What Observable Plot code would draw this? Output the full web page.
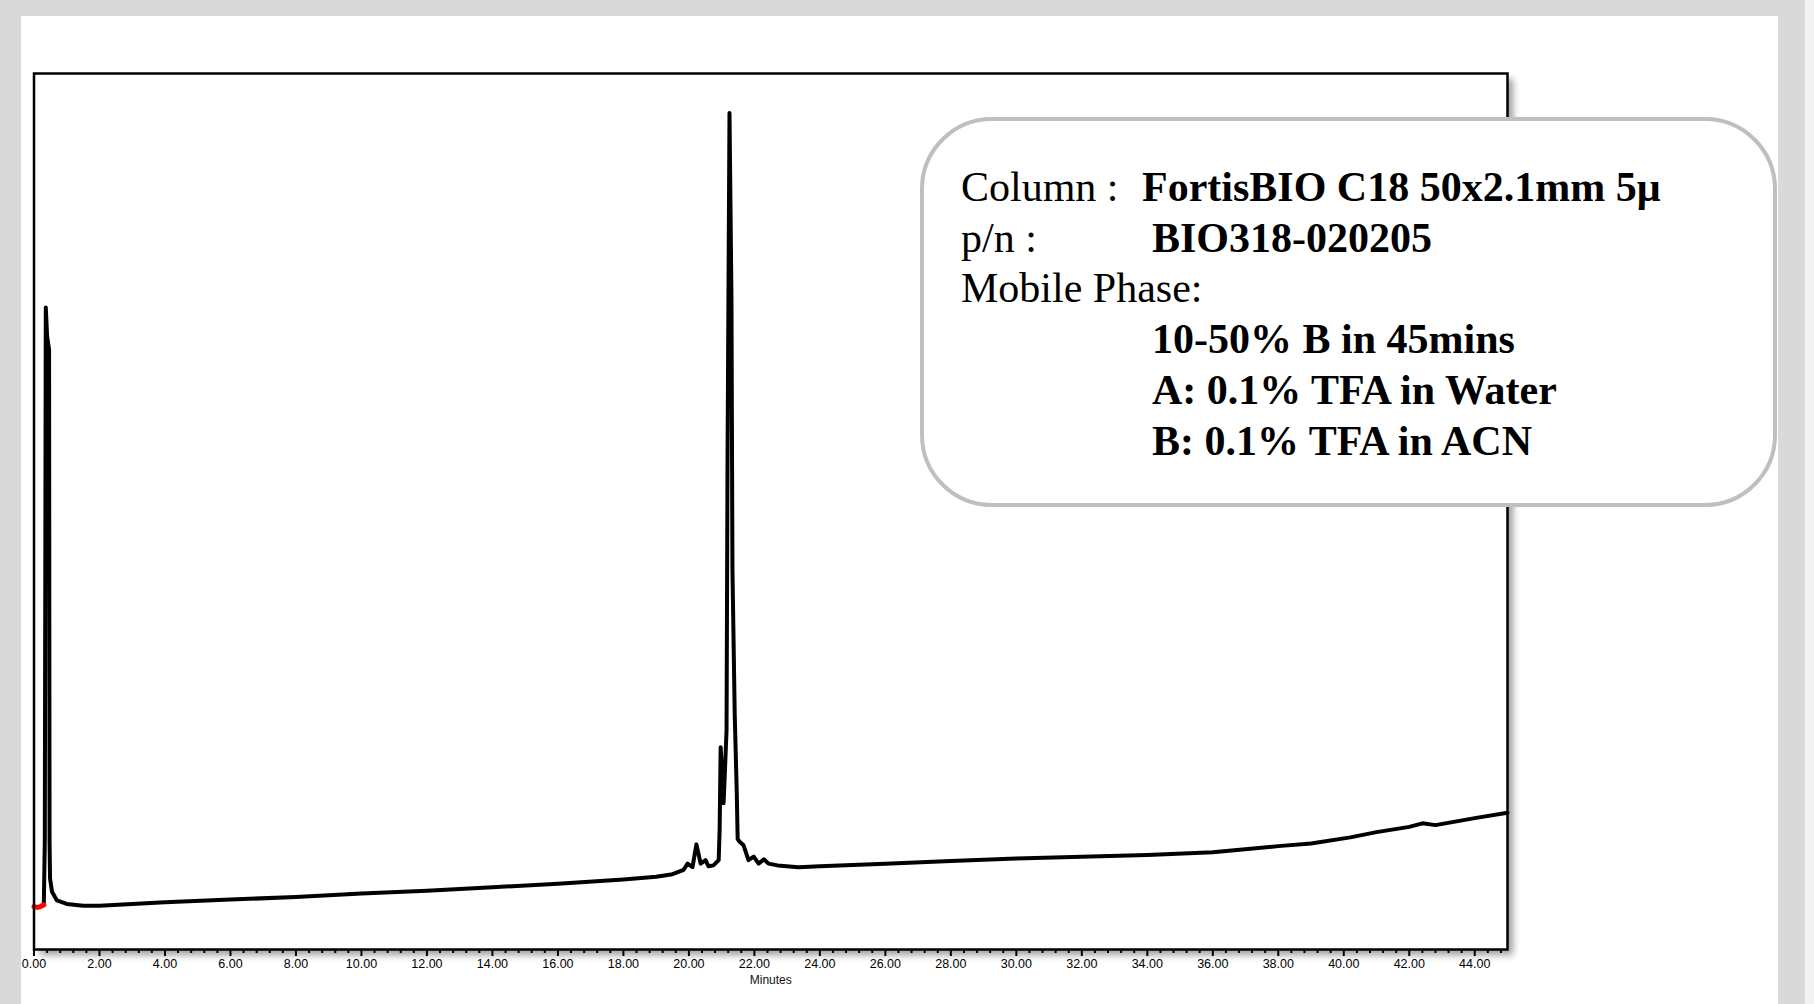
<!DOCTYPE html>
<html>
<head>
<meta charset="utf-8">
<script src="https://cdn.jsdelivr.net/npm/d3@7"></script>
<script src="https://cdn.jsdelivr.net/npm/@observablehq/plot@0.6"></script>
<style>
  html, body { margin: 0; padding: 0; }
  body { width: 1814px; height: 1004px; background: #d9d9d9; position: relative; overflow: hidden; }
  #panel { position: absolute; left: 21px; top: 16px; width: 1757px; height: 988px; background: #ffffff; }
  #strip { position: absolute; left: 1805px; top: 0; width: 9px; height: 1004px; background: #f3f3f3; }
  #shadow { position: absolute; left: 34px; top: 73px; width: 1473px; height: 876px; background: #fff; box-shadow: 6px 6px 7px rgba(0,0,0,0.38); }
  #chart { position: absolute; left: 21px; top: 16px; }
  #box { position: absolute; left: 0; top: 0; }
</style>
</head>
<body>
<div id="panel"></div>
<div id="strip"></div>
<div id="shadow"></div>
<div id="chart"></div>
<svg id="box" width="1814" height="1004"></svg>
<script>
// ---- Chromatogram trace (minutes vs. detector response, arbitrary units) ----
const minutes = [0.30, 0.33, 0.36, 0.40, 0.46, 0.475, 0.49, 0.55, 0.70, 1.0, 1.5, 2.0, 3.0, 4.0, 6.0, 8.0, 10.0, 12.0, 14.0, 16.0, 18.0, 19.0, 19.5, 19.84, 19.96, 20.11, 20.23, 20.36, 20.51, 20.60, 20.75, 20.91, 20.94, 20.97, 21.06, 21.15, 21.18, 21.24, 21.30, 21.33, 21.40, 21.46, 21.49, 21.55, 21.67, 21.82, 21.98, 22.13, 22.29, 22.43, 22.71, 23.35, 24.0, 26.0, 28.0, 30.0, 32.0, 34.0, 36.0, 38.0, 39.0, 40.2, 41.0, 42.0, 42.4, 42.8, 44.0, 45.0];
const response = [51, 124, 733, 700, 685, 124, 81, 66, 56, 52, 50, 50, 52, 54, 57, 60, 64, 67, 71, 75, 80, 83, 86, 91, 98, 94, 120, 98, 102, 95, 96, 102, 138, 231, 167, 250, 559, 955, 744, 435, 268, 182, 126, 123, 119, 102, 106, 98, 103, 98, 96, 94, 95, 98, 101, 104, 106, 108, 111, 118, 121, 128, 134, 140, 144, 142, 150, 156];
// initial segment drawn in red
const startMinutes = [0.0, 0.1, 0.2, 0.3];
const startResponse = [49, 48, 49, 51];

// ---- Axis ticks ----
const majorTicks = [0, 2, 4, 6, 8, 10, 12, 14, 16, 18, 20, 22, 24, 26, 28, 30, 32, 34, 36, 38, 40, 42, 44];
const minorTicks = d3.range(0, 225).map(i => i * 0.2).filter((v, i) => i % 2 === 0 && i % 10 !== 0).map(v => +v.toFixed(1));
const xLabel = "Minutes";

// ---- Info box text ----
const infoLabels = ["Column :", "p/n :", "Mobile Phase:", "", "", ""];
const infoValues = ["FortisBIO C18 50x2.1mm 5μ", "BIO318-020205", "", "10-50% B in 45mins", "A: 0.1% TFA in Water", "B: 0.1% TFA in ACN"];

const trace = minutes.map((t, i) => ({t, v: response[i]}));
const startTrace = startMinutes.map((t, i) => ({t, v: startResponse[i]}));

const chart = Plot.plot({
  width: 1757,
  height: 988,
  marginLeft: 12.5,
  marginRight: 271,
  marginTop: 57,
  marginBottom: 55,
  style: {background: "transparent", fontFamily: "Liberation Sans, Arial, sans-serif", overflow: "visible"},
  x: {domain: [0, 45], label: null},
  y: {domain: [0, 1000], axis: null},
  marks: [
    Plot.axisX({ticks: minorTicks, tickSize: 4, tickFormat: () => "", strokeWidth: 2, label: null}),
    Plot.axisX({ticks: majorTicks, tickSize: 7, tickPadding: 3, tickFormat: d3.format(".2f"), strokeWidth: 2, fontSize: 12.5, label: null}),
    Plot.text([xLabel], {frameAnchor: "bottom", dy: 34, fontSize: 12, fill: "#111"}),
    Plot.line(trace, {x: "t", y: "v", stroke: "#000", strokeWidth: 4, strokeLinejoin: "round"}),
    Plot.line(startTrace, {x: "t", y: "v", stroke: "#ff0000", strokeWidth: 5}),
    Plot.frame({stroke: "#000", strokeWidth: 2.5})
  ]
});
document.getElementById("chart").appendChild(chart);

// Info box overlay
const svg = d3.select("#box");
svg.append("rect")
  .attr("x", 922).attr("y", 119).attr("width", 853).attr("height", 386)
  .attr("rx", 70).attr("ry", 70)
  .attr("fill", "#ffffff").attr("stroke", "#bfbfbf").attr("stroke-width", 4);
const baselines = [201, 252, 302, 353, 404, 455];
const valueX = [1142, 1152, 1152, 1152, 1152, 1152];
baselines.forEach((y, i) => {
  if (infoLabels[i]) {
    svg.append("text")
      .attr("x", 961).attr("y", y)
      .style("font-family", "'Liberation Serif', 'Times New Roman', serif")
      .attr("font-size", 42).attr("fill", "#000")
      .text(infoLabels[i]);
  }
  if (infoValues[i]) {
    svg.append("text")
      .attr("x", valueX[i]).attr("y", y)
      .style("font-family", "'Liberation Serif', 'Times New Roman', serif")
      .attr("font-weight", "bold")
      .attr("font-size", 42).attr("fill", "#000")
      .text(infoValues[i]);
  }
});
</script>
</body>
</html>
